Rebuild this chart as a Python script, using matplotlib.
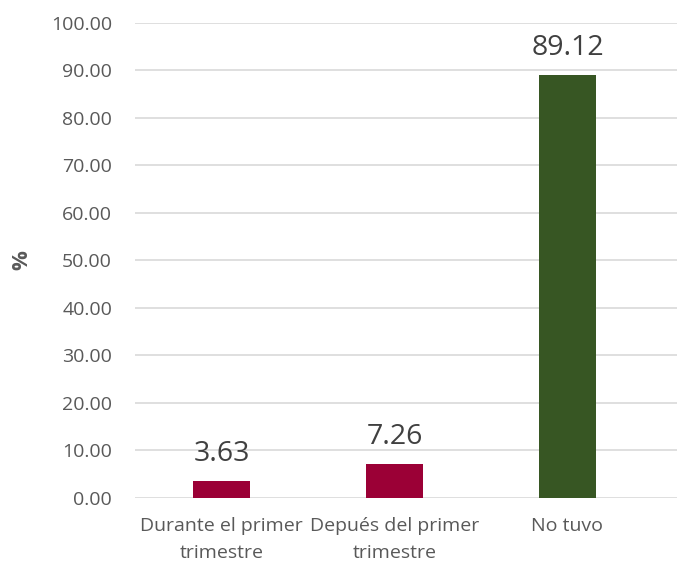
import matplotlib

matplotlib.use("Agg")
import matplotlib.pyplot as plt

categories = ["Durante el primer\ntrimestre", "Depués del primer\ntrimestre", "No tuvo"]
values = [3.63, 7.26, 89.12]
bar_colors = ["#9B0036", "#9B0036", "#375623"]
yticks = [0, 10, 20, 30, 40, 50, 60, 70, 80, 90, 100]

TEXT = "#595959"
plt.rcParams["font.family"] = ["Open Sans", "DejaVu Sans"]

fig = plt.figure(figsize=(6.77, 5.69), dpi=100)
ax = fig.add_axes([0.1994, 0.1248, 0.8006, 0.8348])

x = list(range(len(categories)))
bars = ax.bar(x, values, width=0.324, color=bar_colors, zorder=3)

for b, v in zip(bars, values):
    ax.annotate(f"{v:.2f}", (b.get_x() + b.get_width() / 2, v),
                xytext=(0, 9), textcoords="offset points",
                ha="center", va="bottom", fontsize=20.5, color="#404040")

ax.set_xlim(-0.5, 2.633)
ax.set_ylim(0, 100)
ax.set_yticks(yticks)
ax.set_yticklabels([f"{t:.2f}" for t in yticks])
ax.set_xticks(x)
ax.set_xticklabels(categories, linespacing=1.6)
ax.tick_params(axis="y", length=0, pad=16.5, labelsize=14, labelcolor=TEXT)
ax.tick_params(axis="x", length=0, pad=14, labelsize=14, labelcolor=TEXT)
ax.yaxis.grid(True, color="#D9D9D9", linewidth=1.2, zorder=0)
for s in ax.spines.values():
    s.set_visible(False)

ax.set_ylabel("%", fontsize=16, fontweight="bold", color=TEXT)
ax.yaxis.set_label_coords(-0.19, 0.5)

fig.savefig("out.png", dpi=100)
